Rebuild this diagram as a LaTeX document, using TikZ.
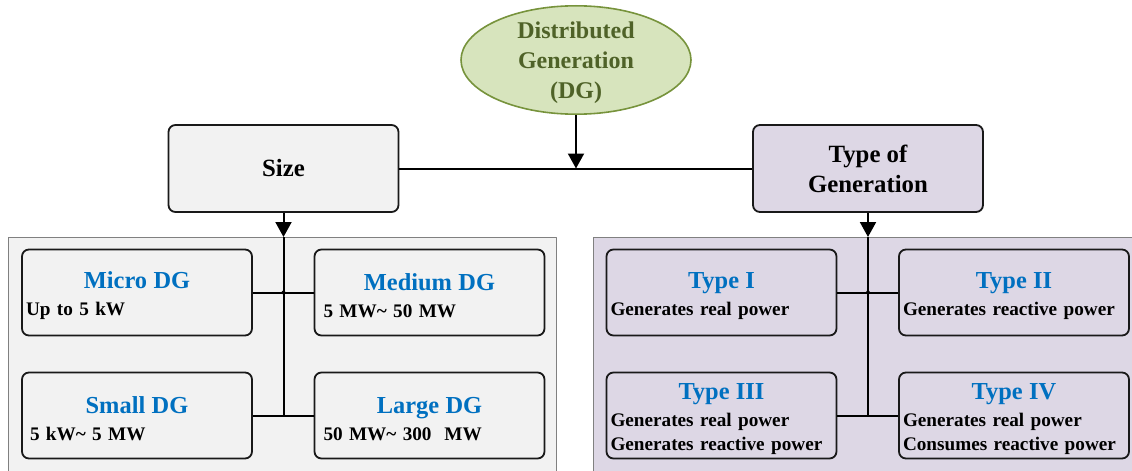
\documentclass[tikz,border=0pt]{standalone}
\usepackage{fontspec}
\setmainfont{Liberation Serif}
\usetikzlibrary{shapes.geometric,arrows.meta}
\definecolor{dgblue}{HTML}{0070C0}
\definecolor{dggreen}{HTML}{77933C}
\definecolor{dgolive}{HTML}{4F6228}
\definecolor{dgfill}{HTML}{D7E4BD}
\definecolor{lavender}{HTML}{DDD7E5}
\definecolor{panelgray}{HTML}{F2F2F2}
\newcommand{\tit}[1]{\rule{0pt}{11.5pt}\makebox[\linewidth]{\color{dgblue}\fontsize{12.2}{14}\selectfont #1}}

\begin{document}
\begin{tikzpicture}[x=0.5pt, y=-0.5pt, line join=round, >={Triangle[length=7.5pt,width=8pt]},
	box/.style={draw=black!90, line width=0.9pt, rounded corners=3.5pt, inner sep=0pt, minimum width=115pt, minimum height=43.5pt},
	leaf/.style={box, minimum height=43pt, text width=111pt, inner xsep=2pt, align=left, font=\parindent0pt\fontsize{9.6}{12}\selectfont\bfseries},
	panel/.style={draw=gray, line width=0.5pt, anchor=north west, minimum height=130pt, inner sep=0pt},
	link/.style={line width=1pt}]
	\useasboundingbox (0,0) rectangle (1132,471);
	\clip (0,0) rectangle (1132,471);
	% background panels
	\node[panel, fill=panelgray, minimum width=274pt] (lpanel) at (8,237) {};
	\node[panel, fill=lavender, minimum width=274pt] (rpanel) at (593,237) {};
	% top levels
	\node[ellipse, draw=dggreen, line width=0.8pt, fill=dgfill, minimum width=115pt, minimum height=53pt, inner sep=0pt, text depth=0pt, align=center, text=dgolive, font=\fontsize{12}{15}\selectfont\bfseries] (dg) at (576,60) {Distributed\\Generation\\(DG)};
	\node[box, fill=panelgray, font=\fontsize{12.4}{15}\selectfont\bfseries] (size) at (283.5,168.5) {Size};
	\node[box, fill=lavender, align=center, font=\fontsize{12.4}{15}\selectfont\bfseries] (gen) at (868,168.5) {Type of\\Generation};
	% size classes
	\node[leaf, fill=panelgray] (micro) at (137,292.5) {\tit{Micro DG}\\[1.5pt] Up to 5 kW};
	\node[leaf, fill=panelgray] (medium) at (429.5,292.5) {\tit{Medium DG}\\[1.5pt] \hspace*{2.5pt}5 MW\textasciitilde{} 50 MW};
	\node[leaf, fill=panelgray] (small) at (137,415.5) {\tit{Small DG}\\[1.5pt] \hspace*{2pt}5 kW\textasciitilde{} 5 MW};
	\node[leaf, fill=panelgray] (large) at (429.5,415.5) {\tit{Large DG}\\[1.5pt] \hspace*{2.5pt}50 MW\textasciitilde{} 300\ \ MW};
	% generation types
	\node[leaf, fill=lavender] (typeI) at (721.5,292.5) {\tit{Type I}\\[1.5pt] Generates real power};
	\node[leaf, fill=lavender] (typeII) at (1014,292.5) {\tit{Type II}\\[1.5pt] Generates reactive power};
	\node[leaf, fill=lavender] (typeIII) at (721.5,415.5) {\tit{Type III}\\[1.5pt] Generates real power\\ Generates reactive power};
	\node[leaf, fill=lavender] (typeIV) at (1014,415.5) {\tit{Type IV}\\[1.5pt] Generates real power\\ Consumes reactive power};
	% connectors
	\draw[link, ->] (dg) -- (dg |- size.east);
	\draw[link] (size) -- (gen);
	\draw[link, ->] (size) -- (size |- lpanel.north);
	\draw[link, ->] (gen) -- (gen |- rpanel.north);
	\draw[link] (size |- lpanel.north) -- (size |- small.east) (micro) -- (medium) (small) -- (large);
	\draw[link] (gen |- rpanel.north) -- (gen |- typeIII.east) (typeI) -- (typeII) (typeIII) -- (typeIV);
	\foreach \n in {size,gen} \fill (\n |- micro.east) circle (1pt);
\end{tikzpicture}
\end{document}
